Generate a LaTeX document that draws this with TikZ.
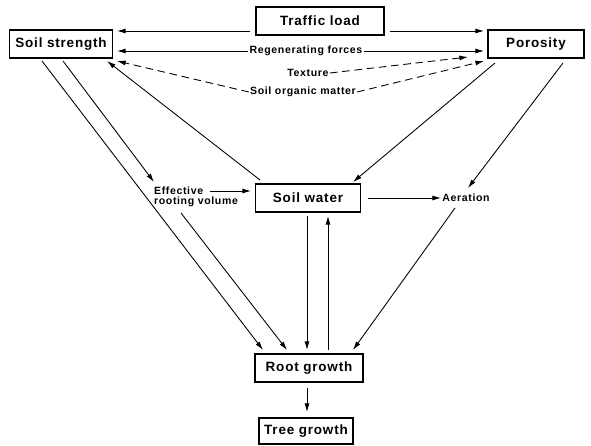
\documentclass[tikz,border=0pt]{standalone}
\usepackage{fontspec}
\usepackage{tikz}
\usetikzlibrary{arrows.meta}
\newfontfamily\diagfont[LetterSpace=6]{Liberation Sans}

\tikzset{
    box/.style={draw, line width=0.9pt, minimum height=8.4mm, inner sep=1pt,
        font=\diagfont\bfseries\fontsize{11.5}{13}\selectfont},
    lbl/.style={inner sep=1pt, align=left,
        font=\diagfont\bfseries\fontsize{9}{10.5}\selectfont},
    arr/.style={line width=0.75pt, -{Latex[length=2.6mm,width=1.5mm]}},
    darr/.style={arr, dash pattern=on 6.5pt off 4pt}
}

\begin{document}
\begin{tikzpicture}[x=0.3mm, y=-0.3mm]
    \useasboundingbox (0,0) rectangle (591,446);

    % boxes
    \node[box, minimum width=38.4mm] (tl) at (320,21) {Traffic load};
    \node[box, minimum width=30.9mm] (ss) at (61,44) {Soil strength};
    \node[box, minimum width=28.8mm] (po) at (536,44) {Porosity};
    \node[box, minimum width=31.5mm] (sw) at (308,198) {Soil water};
    \node[box, minimum width=32.4mm] (rg) at (309,368) {Root growth};
    \node[box, minimum width=28.2mm, minimum height=7.8mm] (tg) at (306,431) {Tree growth};

    % free labels
    \node[lbl] (rf) at (306,51) {Regenerating forces};
    \node[lbl] (tx) at (308,73) {Texture};
    \node[lbl] (so) at (303,92) {Soil organic matter};
    \node[lbl, inner sep=0pt] (er) at (196,197) {Effective\\[-1.5pt]rooting volume};
    \node[lbl] (ae) at (466,198) {Aeration};

    % top row
    \draw[arr] ([shift={(-70,10)}]tl.center) -- ([shift={(56,-13)}]ss.center);
    \draw[arr] ([shift={(70,10)}]tl.center) -- ([shift={(-52,-13)}]po.center);
    \draw[arr] (rf.west) -- ([shift={(56,7)}]ss.center);
    \draw[arr] (rf.east) -- ([shift={(-52,7)}]po.center);
    \draw[darr] (tx.east) -- ([shift={(-68,13)}]po.center);
    \draw[darr] (so.west) -- ([shift={(56,17)}]ss.center);
    \draw[darr] (so.east) -- ([shift={(-52,17)}]po.center);

    % middle
    \draw[arr] ([shift={(-48,-18)}]sw.center) -- ([shift={(46,17)}]ss.center);
    \draw[arr] ([shift={(-41,19)}]po.center) -- ([shift={(45,-16)}]sw.center);
    \draw[arr] ([shift={(27,19)}]po.center) -- ([shift={(2,-10)}]ae.center);
    \draw[arr] ([shift={(2,17)}]ss.center) -- ([shift={(-42,-15)}]er.center);
    \draw[arr] ([shift={(14,-6)}]er.center) -- ([shift={(-57,-7)}]sw.center);
    \draw[arr] ([shift={(60,0)}]sw.center) -- (ae.west);

    % into root growth
    \draw[arr] ([shift={(-19,17)}]ss.center) -- ([shift={(-46,-18)}]rg.center);
    \draw[arr] ([shift={(-15,16)}]er.center) -- ([shift={(-22,-18)}]rg.center);
    \draw[arr] ([shift={(-11,10)}]ae.center) -- ([shift={(44,-18)}]rg.center);
    \draw[arr] ([shift={(-1,18)}]sw.center) -- ([shift={(-2,-18)}]rg.center);
    \draw[arr] ([shift={(19,-18)}]rg.center) -- ([shift={(20,18)}]sw.center);
    \draw[arr] ([shift={(-2,20)}]rg.center) -- ([shift={(1,-19)}]tg.center);
\end{tikzpicture}
\end{document}
